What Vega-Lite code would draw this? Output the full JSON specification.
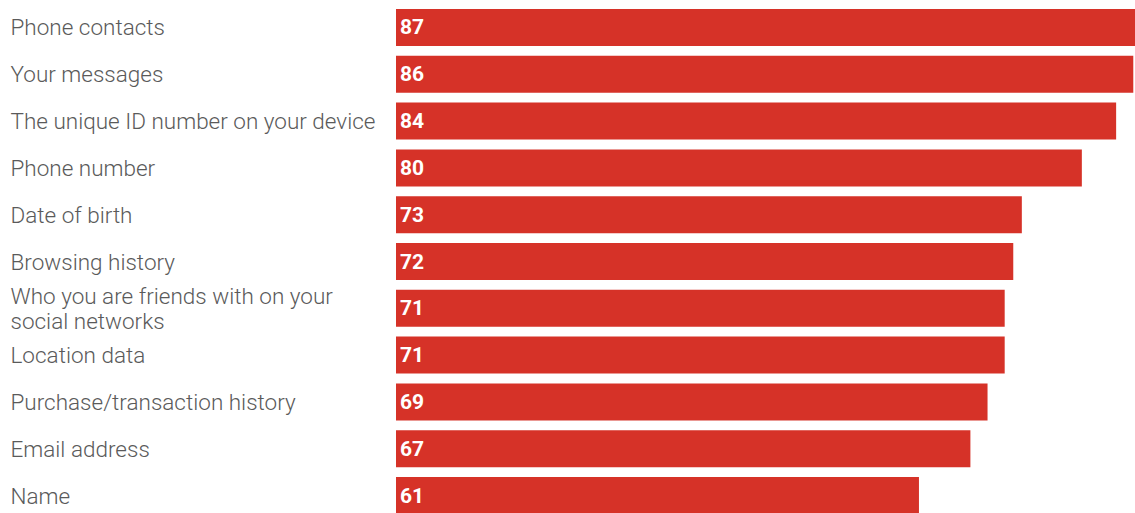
{
  "$schema": "https://vega.github.io/schema/vega-lite/v6.json",
  "width": 739,
  "height": 513,
  "autosize": {"type": "none"},
  "padding": {"left": 396, "top": 0, "right": 0, "bottom": 0},
  "background": "white",
  "config": {"view": {"stroke": null}},
  "data": {
    "values": [
      {"item": "Phone contacts", "value": 87},
      {"item": "Your messages", "value": 86},
      {"item": "The unique ID number on your device", "value": 84},
      {"item": "Phone number", "value": 80},
      {"item": "Date of birth", "value": 73},
      {"item": "Browsing history", "value": 72},
      {"item": "Who you are friends with on your|social networks", "value": 71},
      {"item": "Location data", "value": 71},
      {"item": "Purchase/transaction history", "value": 69},
      {"item": "Email address", "value": 67},
      {"item": "Name", "value": 61}
    ]
  },
  "encoding": {
    "y": {
      "field": "item",
      "type": "nominal",
      "sort": null,
      "scale": {"range": [9, 514], "paddingInner": 0.21, "paddingOuter": 0},
      "axis": {
        "title": null,
        "domain": false,
        "ticks": false,
        "grid": false,
        "labelAlign": "left",
        "labelPadding": 386,
        "labelLimit": 400,
        "labelFont": "Roboto",
        "labelFontWeight": 300,
        "labelFontSize": 22.5,
        "labelColor": "#5a5a5a",
        "labelLineHeight": 25,
        "labelOffset": {"condition": {"test": "indexof(datum.value, '|') >= 0", "value": -11.5}, "value": 1},
        "labelExpr": "split(datum.label, '|')"
      }
    }
  },
  "layer": [
    {
      "mark": {"type": "bar", "color": "#d63228", "clip": true},
      "encoding": {
        "x": {
          "field": "value",
          "type": "quantitative",
          "scale": {"domain": [0, 86.2], "nice": false},
          "axis": null
        }
      }
    },
    {
      "mark": {"type": "text", "align": "left", "baseline": "middle", "dx": 4, "dy": 1, "color": "white", "font": "Roboto", "fontWeight": "bold", "fontSize": 21},
      "encoding": {
        "x": {"datum": 0, "type": "quantitative"},
        "text": {"field": "value", "type": "quantitative"}
      }
    }
  ]
}
